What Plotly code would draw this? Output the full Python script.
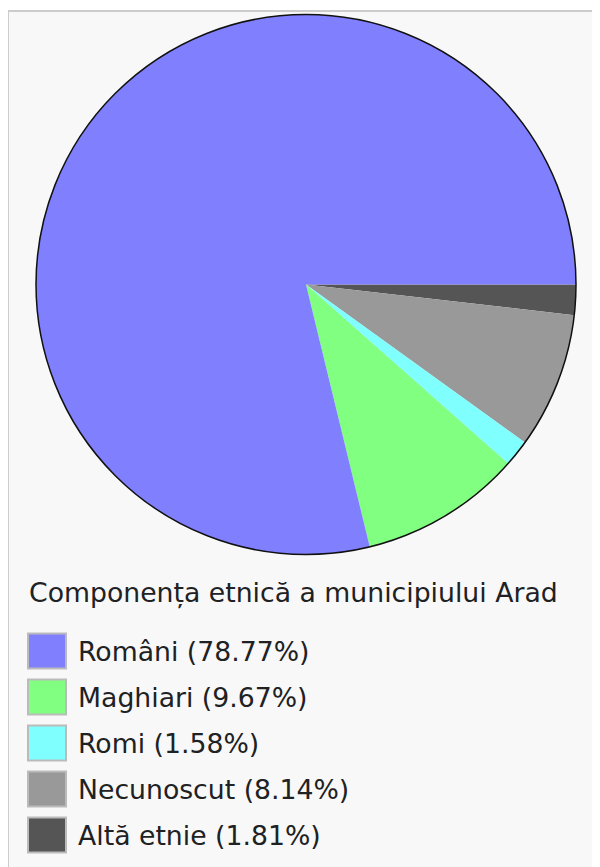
import plotly.graph_objects as go

# ---- data ----
labels = ["Români", "Maghiari", "Romi", "Necunoscut", "Altă etnie"]
values = [78.77, 9.67, 1.58, 8.14, 1.81]
colors = ["#8080ff", "#80ff80", "#80ffff", "#999999", "#555555"]
title_text = "Componența etnică a municipiului Arad"

W, H = 600, 867
OFF = 8  # page body margin of the browser
FONT = "DejaVu Sans"

def px(x):
    return (x - OFF) / W

def py(y):
    return 1 - (y - OFF) / H

# pie geometry (target pixels in the screenshot)
cx, cy, r = 306, 284.5, 270
dom_x = [px(cx - r), px(cx + r)]
dom_y = [py(cy + r), py(cy - r)]

fig = go.Figure()
fig.add_trace(go.Pie(
    labels=labels[::-1],
    values=values[::-1],
    sort=False,
    direction="clockwise",
    rotation=90,
    marker=dict(colors=colors[::-1], line=dict(width=0)),
    textinfo="none",
    showlegend=False,
    domain=dict(x=dom_x, y=dom_y),
))

shapes = []
# frame
shapes.append(dict(type="rect", xref="paper", yref="paper", layer="below",
                   x0=px(8), x1=px(650), y0=py(920), y1=py(11),
                   fillcolor="#f8f8f8", line=dict(color="#cccccc", width=2)))
# pie outline
shapes.append(dict(type="circle", xref="paper", yref="paper", layer="above",
                   x0=dom_x[0], x1=dom_x[1], y0=dom_y[0], y1=dom_y[1],
                   line=dict(color="#111111", width=1.5)))

annotations = [dict(text=title_text, xref="paper", yref="paper",
                    x=px(27), y=py(593), xanchor="left", yanchor="middle",
                    showarrow=False, font=dict(family=FONT, size=26.7, color="#202122"))]

y0 = 651
step = 46
for i, (lab, val, col) in enumerate(zip(labels, values, colors)):
    yc = y0 + i * step
    shapes.append(dict(type="rect", xref="paper", yref="paper", layer="above",
                       x0=px(28), x1=px(66), y0=py(yc + 17.5), y1=py(yc - 17.5),
                       fillcolor=col, line=dict(color="#bbbbbb", width=2)))
    annotations.append(dict(text=f"{lab} ({val:.2f}%)", xref="paper", yref="paper",
                            x=px(76), y=py(yc), xanchor="left", yanchor="middle",
                            showarrow=False,
                            font=dict(family=FONT, size=26.7, color="#202122")))

fig.update_layout(
    width=W, height=H,
    margin=dict(l=0, r=0, t=0, b=0),
    paper_bgcolor="#ffffff",
    plot_bgcolor="#ffffff",
    shapes=shapes,
    annotations=annotations,
)

fig.write_html("out.html")
